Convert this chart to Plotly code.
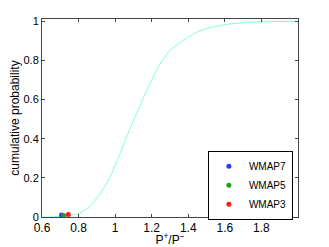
import plotly.graph_objects as go

# cumulative curve
curve_x = [0.60, 0.63, 0.70, 0.751, 0.805, 0.86, 0.914, 0.969, 1.024, 1.078, 1.132,
           1.16, 1.187, 1.241, 1.296, 1.35, 1.405, 1.459, 1.514, 1.568, 1.623,
           1.677, 1.75, 1.85, 2.00]
curve_y = [0.0, 0.0, 0.003, 0.008, 0.02, 0.054, 0.114, 0.199, 0.318, 0.445, 0.56,
           0.62, 0.675, 0.775, 0.847, 0.889, 0.923, 0.95, 0.966, 0.978, 0.986,
           0.991, 0.996, 0.999, 1.0]

series_names = ["WMAP7", "WMAP5", "WMAP3"]
series_x = [0.707, 0.718, 0.744]
series_y = [0.010, 0.008, 0.013]
series_colors = ["#2b3bff", "#1fa01f", "#ff1a1a"]

x_ticks = [0.6, 0.8, 1.0, 1.2, 1.4, 1.6, 1.8]
x_ticklabels = ["0.6", "0.8", "1", "1.2", "1.4", "1.6", "1.8"]
y_ticks = [0, 0.2, 0.4, 0.6, 0.8, 1.0]
y_ticklabels = ["0", "0.2", "0.4", "0.6", "0.8", "1"]

fig = go.Figure()
fig.add_trace(go.Scatter(x=curve_x, y=curve_y, mode="lines",
                         line=dict(color="#7fffd4", width=1, shape="spline", smoothing=0.8),
                         showlegend=False, hoverinfo="skip"))
for n, xv, yv, c in zip(series_names, series_x, series_y, series_colors):
    fig.add_trace(go.Scatter(x=[xv], y=[yv], mode="markers", name=n,
                             marker=dict(color=c, size=5)))

fam = "Liberation Sans, Arial, sans-serif"
font = dict(family=fam, size=12, color="#000")
yfont = dict(family=fam, size=11, color="#000")
lfont = dict(family=fam, size=10, color="#000")
axis_common = dict(showgrid=False, zeroline=False, ticks="inside", ticklen=3, tickwidth=1,
                   tickcolor="#444", showline=True, linecolor="#444", linewidth=1, mirror="ticks",
                   automargin=False)
fig.update_layout(
    width=329, height=247,
    margin=dict(l=42, r=31, t=19, b=30),
    paper_bgcolor="white", plot_bgcolor="white",
    font=font,
    xaxis=dict(range=[0.6, 2.0], tickvals=x_ticks, ticktext=x_ticklabels, tickfont=font,
               title=dict(text="P<sup>+</sup>/P<sup>−</sup>", font=font, standoff=1), **axis_common),
    yaxis=dict(range=[0, 1.012], tickvals=y_ticks, ticktext=y_ticklabels, tickfont=yfont,
               title=dict(text="cumulative probability", font=font, standoff=1), **axis_common),
    legend=dict(x=0.98, y=0.334, xanchor="right", yanchor="top", bgcolor="white",
                bordercolor="#000", borderwidth=1, font=lfont, itemwidth=30,
                tracegroupgap=0),
    showlegend=True,
)
fig.write_html("out.html", config={"displayModeBar": False},
               post_script="document.body.style.margin='0px';")
